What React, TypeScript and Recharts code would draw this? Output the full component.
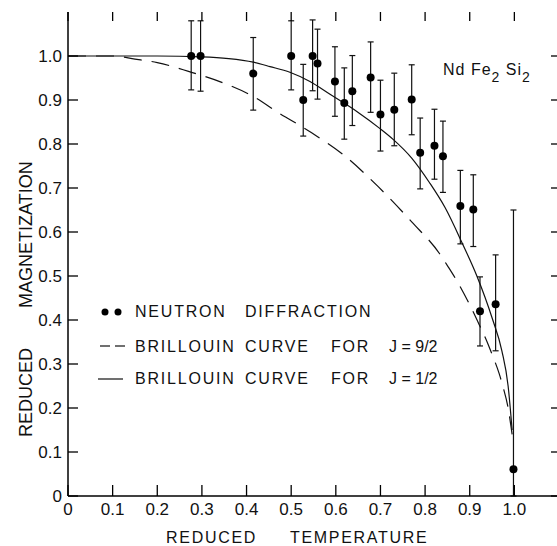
import { ComposedChart, XAxis, YAxis, Line, Scatter, ErrorBar } from "recharts";

// neutron diffraction points (reduced temperature, reduced magnetization)
const tempPts = [0.276, 0.297, 0.415, 0.5, 0.527, 0.548, 0.559, 0.598, 0.619, 0.637, 0.678, 0.7, 0.731, 0.77, 0.789, 0.821, 0.84, 0.879, 0.908, 0.923, 0.958, 0.998];
const magPts = [1.0, 1.0, 0.96, 1.0, 0.9, 1.0, 0.983, 0.942, 0.893, 0.92, 0.951, 0.867, 0.878, 0.901, 0.78, 0.796, 0.772, 0.659, 0.651, 0.42, 0.436, 0.061];
const errDown = [0.077, 0.08, 0.083, 0.077, 0.082, 0.079, 0.081, 0.079, 0.082, 0.078, 0.079, 0.083, 0.082, 0.08, 0.082, 0.076, 0.082, 0.086, 0.084, 0.079, 0.106, 0.061];
const errUp = [0.08, 0.08, 0.082, 0.08, 0.081, 0.082, 0.078, 0.079, 0.08, 0.081, 0.081, 0.078, 0.083, 0.079, 0.079, 0.083, 0.08, 0.081, 0.079, 0.078, 0.112, 0.589];

// Brillouin J = 9/2 (dashed)
const j92T = [0, 0.1, 0.15, 0.2, 0.27, 0.35, 0.415, 0.47, 0.545, 0.62, 0.695, 0.77, 0.833, 0.851, 0.878, 0.907, 0.921, 0.939, 0.95, 0.966, 0.974, 0.986, 0.995];
const j92M = [1.0, 1.0, 0.993, 0.985, 0.965, 0.938, 0.908, 0.872, 0.826, 0.773, 0.703, 0.623, 0.55, 0.522, 0.477, 0.42, 0.39, 0.35, 0.322, 0.278, 0.25, 0.2, 0.14];

// Brillouin J = 1/2 (solid)
const j12T = [0, 0.1, 0.2, 0.3, 0.36, 0.415, 0.4525, 0.497, 0.542, 0.587, 0.647, 0.699, 0.729, 0.77, 0.81, 0.845, 0.883, 0.916, 0.95, 0.972, 0.986, 0.995];
const j12M = [1.0, 1.0, 1.0, 0.998, 0.994, 0.986, 0.976, 0.963, 0.942, 0.913, 0.874, 0.835, 0.81, 0.768, 0.712, 0.655, 0.575, 0.5, 0.405, 0.33, 0.25, 0.15];

const tickVals = [0, 0.1, 0.2, 0.3, 0.4, 0.5, 0.6, 0.7, 0.8, 0.9, 1.0];
const tickLabels = ["0", "0.1", "0.2", "0.3", "0.4", "0.5", "0.6", "0.7", "0.8", "0.9", "1.0"];

const FONT = "'Liberation Sans', Arial, sans-serif";
const PLOT_TOP = 12;
const PLOT_RIGHT = 559;

const points = tempPts.map((t, i) => ({ t, m: magPts[i], err: [errDown[i], errUp[i]] }));
const curve92 = j92T.map((t, i) => ({ t, m: j92M[i] }));
const curve12 = j12T.map((t, i) => ({ t, m: j12M[i] }));

const label = (v: number) => tickLabels[tickVals.indexOf(v)] ?? String(v);

// ticks point inward on all four sides of the frame
const BottomTick = (p: any) => (
  <g>
    <line x1={p.x} x2={p.x} y1={p.y} y2={p.y - 11} stroke="#000" strokeWidth={1.3} />
    <line x1={p.x} x2={p.x} y1={PLOT_TOP} y2={PLOT_TOP + 9} stroke="#000" strokeWidth={1.3} />
    <text x={p.x} y={p.y + 19} textAnchor="middle" fontSize={17} fontFamily={FONT} fill="#111">
      {label(p.payload.value)}
    </text>
  </g>
);
const LeftTick = (p: any) => (
  <g>
    <line x1={p.x} x2={p.x + 10} y1={p.y} y2={p.y} stroke="#000" strokeWidth={1.3} />
    <line x1={PLOT_RIGHT} x2={PLOT_RIGHT - 8} y1={p.y} y2={p.y} stroke="#000" strokeWidth={1.3} />
    <text x={p.x - 6} y={p.y + 6} textAnchor="end" fontSize={17} fontFamily={FONT} fill="#111">
      {label(p.payload.value)}
    </text>
  </g>
);

const Dot = (p: any) => <circle cx={p.cx} cy={p.cy} r={4} fill="#000" />;

const txt = { fontSize: 16, fontFamily: FONT, fill: "#111", letterSpacing: 1.8 };

export default function App() {
  return (
    <div style={{ position: "absolute", left: 0, top: 0, width: 557, height: 546, overflow: "hidden", background: "#fff" }}>
      <ComposedChart width={562} height={546} margin={{ top: PLOT_TOP, right: 562 - PLOT_RIGHT, bottom: 0, left: 0 }}>
        <XAxis dataKey="t" type="number" domain={[0, 1.1]} allowDataOverflow ticks={tickVals} height={50}
          tickSize={0} tickMargin={0} tickLine={false} tick={BottomTick} axisLine={{ stroke: "#000", strokeWidth: 1.5 }} />
        <XAxis xAxisId="top" orientation="top" dataKey="t" type="number" domain={[0, 1.1]} height={0}
          tick={false} tickLine={false} axisLine={{ stroke: "#000", strokeWidth: 1.5 }} />
        <YAxis type="number" domain={[0, 1.1]} allowDataOverflow ticks={tickVals} width={68}
          tickSize={0} tickMargin={0} tickLine={false} tick={LeftTick} axisLine={{ stroke: "#000", strokeWidth: 1.5 }} />
        <YAxis yAxisId="right" orientation="right" type="number" domain={[0, 1.1]} width={0}
          tick={false} tickLine={false} axisLine={{ stroke: "#000", strokeWidth: 1.5 }} />
        <Line data={curve92} dataKey="m" type="monotone" stroke="#111" strokeWidth={1.2} strokeDasharray="18 10" dot={false} isAnimationActive={false} />
        <Line data={curve12} dataKey="m" type="monotone" stroke="#111" strokeWidth={1.2} dot={false} isAnimationActive={false} />
        <Scatter data={points} dataKey="m" shape={Dot} isAnimationActive={false}>
          <ErrorBar dataKey="err" direction="y" width={3} stroke="#111" strokeWidth={1.2} />
        </Scatter>

        <text x={443} y={75} fontSize={16} fontFamily={FONT} fill="#111" letterSpacing={1}>
          Nd Fe<tspan dy={7} fontSize={14}>2</tspan><tspan dy={-7}> Si</tspan><tspan dy={7} fontSize={14}>2</tspan>
        </text>

        <circle cx={105} cy={312} r={3.5} fill="#000" />
        <circle cx={118} cy={312} r={3.5} fill="#000" />
        <text x={135} y={317} {...txt}>NEUTRON</text>
        <text x={245} y={317} {...txt}>DIFFRACTION</text>

        <line x1={100} x2={110} y1={346} y2={346} stroke="#111" strokeWidth={1.2} />
        <line x1={115} x2={125} y1={346} y2={346} stroke="#111" strokeWidth={1.2} />
        <text x={135} y={352} {...txt}>BRILLOUIN</text>
        <text x={245} y={352} {...txt}>CURVE</text>
        <text x={331} y={352} {...txt}>FOR</text>
        <text x={389} y={352} {...txt} letterSpacing={0}>J = 9/2</text>

        <line x1={98} x2={123} y1={379} y2={379} stroke="#111" strokeWidth={1.2} />
        <text x={135} y={384} {...txt}>BRILLOUIN</text>
        <text x={245} y={384} {...txt}>CURVE</text>
        <text x={331} y={384} {...txt}>FOR</text>
        <text x={389} y={384} {...txt} letterSpacing={0}>J = 1/2</text>

        <text x={166} y={543} {...txt} letterSpacing={1.7}>REDUCED</text>
        <text x={290} y={543} {...txt} letterSpacing={1.7}>TEMPERATURE</text>

        <text transform="translate(32,437) rotate(-90)" {...txt} fontSize={18} letterSpacing={0}>REDUCED</text>
        <text transform="translate(32,308) rotate(-90)" {...txt} fontSize={18} letterSpacing={0}>MAGNETIZATION</text>
      </ComposedChart>
    </div>
  );
}
